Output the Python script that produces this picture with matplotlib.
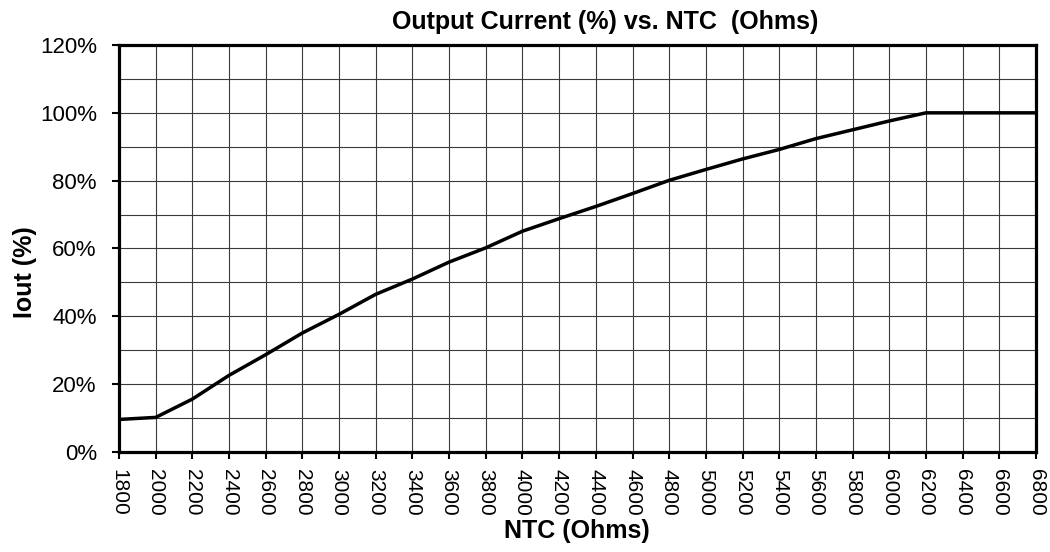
import matplotlib.pyplot as plt
import numpy as np
from matplotlib.ticker import MultipleLocator, FuncFormatter

plt.rcParams['font.family'] = ['Liberation Sans', 'DejaVu Sans']

# data
ntc = [1800, 2000, 2200, 2400, 2600, 2800, 3000, 3200, 3400, 3600, 3800,
       4000, 4200, 4400, 4600, 4800, 5000, 5200, 5400, 5600, 5800, 6000,
       6200, 6400, 6600, 6800]
iout = [9.6, 10.2, 15.6, 22.6, 28.7, 35.1, 40.6, 46.5, 51.0, 56.0, 60.2,
        65.1, 68.8, 72.4, 76.2, 80.1, 83.3, 86.4, 89.2, 92.4, 95.0, 97.6,
        100.0, 100.0, 100.0, 100.0]

fig = plt.figure(figsize=(10.5, 5.52), dpi=100)
ax = fig.add_axes([119/1050, 1-452/552, (1036-119)/1050, (452-45)/552])

ax.plot(ntc, iout, color='black', lw=2.5, solid_joinstyle='miter', zorder=3)

ax.set_xlim(1800, 6800)
ax.set_ylim(0, 120)
ax.xaxis.set_major_locator(MultipleLocator(200))
ax.yaxis.set_major_locator(MultipleLocator(20))
ax.yaxis.set_minor_locator(MultipleLocator(10))
ax.yaxis.set_major_formatter(FuncFormatter(lambda v, p: "%d%%" % v))

ax.grid(True, which='both', color='#3a3a3a', lw=0.8)
ax.set_axisbelow(True)
ax.tick_params(axis='y', which='minor', length=0)
ax.tick_params(axis='y', which='major', direction='out', length=5, width=1.5,
               labelsize=16, pad=11)
ax.tick_params(axis='x', direction='out', length=5, width=1.5,
               labelsize=15, pad=7, labelrotation=-90)

for s in ax.spines.values():
    s.set_linewidth(2.3)
    s.set_color('black')

fig.text(605/1050, 1-22/552, "Output Current (%) vs. NTC  (Ohms)",
         fontsize=18, fontweight='bold', ha='center', va='center')
fig.text(577/1050, 1-531/552, "NTC (Ohms)", fontsize=18, fontweight='bold',
         ha='center', va='center')
fig.text(25/1050, 1-272/552, "Iout (%)", fontsize=18, fontweight='bold',
         ha='center', va='center', rotation=90)

fig.savefig("out.png", dpi=100)
